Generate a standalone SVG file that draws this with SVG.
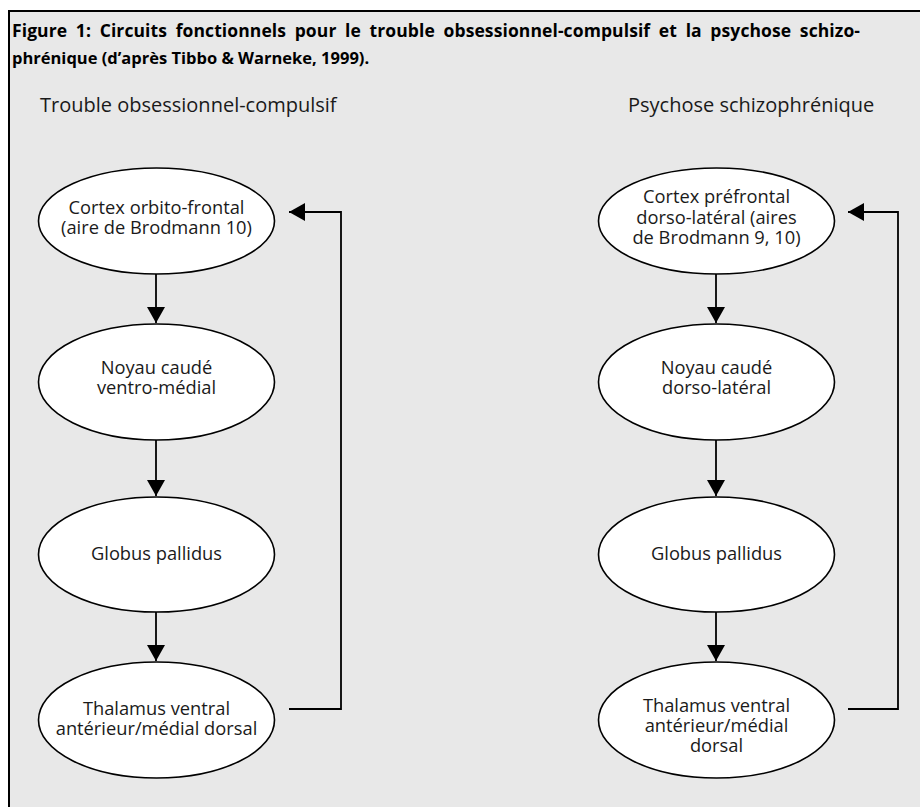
<svg xmlns="http://www.w3.org/2000/svg" width="920" height="807" viewBox="0 0 920 807">
<defs>
<style>
.frame{fill:#e8e8e8;stroke:#000;stroke-width:2}
.node ellipse{fill:#fff;stroke:#000;stroke-width:1.6}
.node text,.sub{font-family:"Open Sans","Noto Sans",sans-serif;font-size:18.3px;fill:#1a1a1a;text-anchor:middle}
.sub{font-size:20px;text-anchor:start}
.title{font-family:"Open Sans","Noto Sans",sans-serif;font-weight:bold;font-size:16.5px;fill:#000}
.t1{font-size:17.5px;word-spacing:4px}
.edge{fill:none;stroke:#000;stroke-width:1.8}
</style>
<marker id="ah" viewBox="0 0 16 18" refX="16" refY="9" markerWidth="16" markerHeight="18" markerUnits="userSpaceOnUse" orient="auto">
<path d="M0,0 L16,9 L0,18 Z" fill="#000"/>
</marker>
</defs>
<rect class="frame" x="9" y="11" width="920" height="810"/>
<text class="title t1" x="12" y="37" textLength="848" lengthAdjust="spacing">Figure 1: Circuits fonctionnels pour le trouble obsessionnel-compulsif et la psychose schizo-</text>
<text class="title" x="12" y="64">phrénique (d’après Tibbo &amp; Warneke, 1999).</text>
<text class="sub" x="40" y="112">Trouble obsessionnel-compulsif</text>
<text class="sub" x="628" y="112">Psychose schizophrénique</text>

<g id="connectors">
<path class="edge" d="M156,274 V323" marker-end="url(#ah)"/>
<path class="edge" d="M156,440 V496" marker-end="url(#ah)"/>
<path class="edge" d="M156,612 V661" marker-end="url(#ah)"/>
<path class="edge" d="M289,709 H341 V212 H289" marker-end="url(#ah)"/>
<path class="edge" d="M716,274 V323" marker-end="url(#ah)"/>
<path class="edge" d="M716,440 V496" marker-end="url(#ah)"/>
<path class="edge" d="M716,612 V661" marker-end="url(#ah)"/>
<path class="edge" d="M848,709 H898 V212 H848" marker-end="url(#ah)"/>
</g>

<g id="toc-cortex" class="node">
<ellipse cx="156.5" cy="221" rx="118" ry="53"/>
<text x="156.5" y="214">Cortex orbito-frontal</text>
<text x="156.5" y="234">(aire de Brodmann 10)</text>
</g>
<g id="toc-noyau" class="node">
<ellipse cx="156.5" cy="382" rx="118" ry="58"/>
<text x="156.5" y="374">Noyau caudé</text>
<text x="156.5" y="394">ventro-médial</text>
</g>
<g id="toc-globus" class="node">
<ellipse cx="156.5" cy="554.5" rx="118" ry="57.5"/>
<text x="156.5" y="560">Globus pallidus</text>
</g>
<g id="toc-thalamus" class="node">
<ellipse cx="156.5" cy="720" rx="118" ry="58"/>
<text x="156.5" y="715">Thalamus ventral</text>
<text x="156.5" y="735">antérieur/médial dorsal</text>
</g>

<g id="psy-cortex" class="node">
<ellipse cx="716.5" cy="221" rx="118" ry="53"/>
<text x="716.5" y="203">Cortex préfrontal</text>
<text x="716.5" y="223.5">dorso-latéral (aires</text>
<text x="716.5" y="244">de Brodmann 9, 10)</text>
</g>
<g id="psy-noyau" class="node">
<ellipse cx="716.5" cy="382" rx="118" ry="58"/>
<text x="716.5" y="374">Noyau caudé</text>
<text x="716.5" y="394">dorso-latéral</text>
</g>
<g id="psy-globus" class="node">
<ellipse cx="716.5" cy="554.5" rx="118" ry="57.5"/>
<text x="716.5" y="560">Globus pallidus</text>
</g>
<g id="psy-thalamus" class="node">
<ellipse cx="716.5" cy="720" rx="118" ry="58"/>
<text x="716.5" y="712">Thalamus ventral</text>
<text x="716.5" y="732">antérieur/médial</text>
<text x="716.5" y="752">dorsal</text>
</g>
</svg>
